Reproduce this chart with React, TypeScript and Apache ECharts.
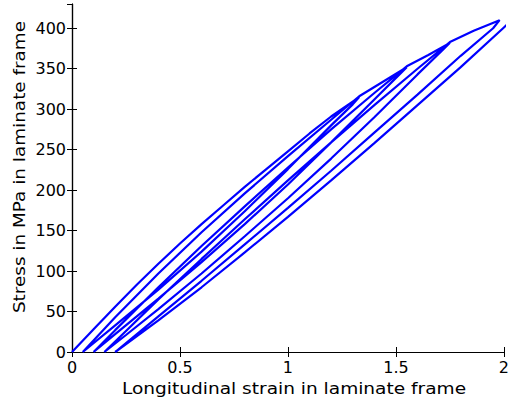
import React, { useEffect, useRef } from "react";
import * as echarts from "echarts";

// Tick labels
const xTicks = [0, 0.5, 1, 1.5, 2];
const yTicks = [0, 50, 100, 150, 200, 250, 300, 350, 400];

// Cyclic loading record, segment by segment (strain, stress in MPa)
const load1Strain = [0, 0.1, 0.2, 0.3, 0.4, 0.5, 0.6, 0.7, 0.8, 0.9, 1.0, 1.1, 1.2, 1.33];
const load1Stress = [0, 28, 56, 83, 109, 134, 158, 181, 204, 226, 248, 270, 291, 315];

const unload1Strain = [1.33, 1.3, 1.2, 1.0, 0.8, 0.6, 0.4, 0.2, 0.05];
const unload1Stress = [315, 306, 280, 226, 174, 124, 77, 33, 0];

const load2Strain = [0.05, 0.2, 0.4, 0.6, 0.8, 1.0, 1.2, 1.33, 1.44, 1.55];
const load2Stress = [0, 43, 97, 148, 196, 242, 287, 316, 334, 352];

const unload2Strain = [1.55, 1.52, 1.4, 1.2, 1.0, 0.8, 0.6, 0.4, 0.2, 0.1];
const unload2Stress = [352, 344, 312, 259, 207, 158, 111, 66, 22, 0];

const load3Strain = [0.1, 0.2, 0.4, 0.6, 0.8, 1.0, 1.2, 1.4, 1.55, 1.65, 1.75];
const load3Stress = [0, 27, 80, 131, 180, 228, 275, 320, 353, 367, 382];

const unload3Strain = [1.75, 1.72, 1.6, 1.4, 1.2, 1.0, 0.8, 0.6, 0.4, 0.25, 0.15];
const unload3Stress = [382, 374, 343, 290, 239, 190, 143, 97, 53, 21, 0];

const load4Strain = [0.15, 0.25, 0.4, 0.6, 0.8, 1.0, 1.2, 1.4, 1.6, 1.75, 1.86, 1.98];
const load4Stress = [0, 26, 65, 115, 164, 212, 259, 305, 350, 383, 397, 410];

const unload4Strain = [1.98, 1.95, 1.8, 1.6, 1.4, 1.2, 1.0, 0.8, 0.6, 0.4, 0.2];
const unload4Stress = [410, 400, 366, 318, 271, 224, 178, 133, 88, 44, 0];

const load5Strain = [0.2, 0.4, 0.6, 0.8, 1.0, 1.2, 1.4, 1.6, 1.8, 2.0, 2.05];
const load5Stress = [0, 39, 80, 123, 167, 212, 258, 305, 352, 401, 413];

const segments: [number[], number[]][] = [
  [load1Strain, load1Stress],
  [unload1Strain, unload1Stress],
  [load2Strain, load2Stress],
  [unload2Strain, unload2Stress],
  [load3Strain, load3Stress],
  [unload3Strain, unload3Stress],
  [load4Strain, load4Stress],
  [unload4Strain, unload4Stress],
  [load5Strain, load5Stress],
];

const FONT = "DejaVu Sans";

export default function App() {
  const ref = useRef<HTMLDivElement>(null);
  useEffect(() => {
    if (!ref.current) return;
    const chart = echarts.init(ref.current, undefined, { renderer: "svg" });
    const data: number[][] = [];
    segments.forEach(([xs, ys]) => {
      xs.forEach((x, i) => data.push([x, ys[i]]));
    });
    const xLab = (v: number) => (xTicks.includes(v) ? String(v) : "");
    const yLab = (v: number) => (yTicks.includes(v) ? String(v) : "");
    const axisLine = { show: true, lineStyle: { color: "#000", width: 1.2 } };
    const tick = { show: true, inside: true, length: 5, lineStyle: { color: "#000", width: 1 } };
    chart.setOption({
      animation: false,
      backgroundColor: "#fff",
      grid: { left: 72, right: 2, top: 4, bottom: 51, containLabel: false },
      xAxis: [
        {
          type: "value",
          position: "bottom",
          min: 0,
          max: 2,
          interval: 0.5,
          axisLine,
          axisTick: tick,
          splitLine: { show: false },
          axisLabel: { formatter: xLab, color: "#000", fontSize: 16, fontFamily: FONT, margin: 7 },
        },
        {
          type: "value",
          position: "top",
          min: 0,
          max: 2,
          interval: 0.5,
          axisLine,
          axisTick: tick,
          splitLine: { show: false },
          axisLabel: { show: false },
        },
      ],
      yAxis: [
        {
          type: "value",
          position: "left",
          min: 0,
          max: 430,
          interval: 50,
          axisLine,
          axisTick: tick,
          splitLine: { show: false },
          axisLabel: { formatter: yLab, color: "#000", fontSize: 16, fontFamily: FONT, margin: 6, showMaxLabel: false },
        },
        {
          type: "value",
          position: "right",
          min: 0,
          max: 430,
          interval: 50,
          axisLine,
          axisTick: tick,
          splitLine: { show: false },
          axisLabel: { show: false },
        },
      ],
      graphic: [
        {
          type: "text",
          x: 294,
          y: 388,
          scaleX: 1.16,
          style: {
            text: "Longitudinal strain in laminate frame",
            fontSize: 16,
            fontFamily: FONT,
            fill: "#000",
            align: "center",
            verticalAlign: "middle",
          },
        },
        {
          type: "text",
          x: 19,
          y: 167,
          rotation: Math.PI / 2,
          scaleX: 1.15,
          style: {
            text: "Stress in MPa in laminate frame",
            fontSize: 16,
            fontFamily: FONT,
            fill: "#000",
            align: "center",
            verticalAlign: "middle",
          },
        },
      ],
      series: [
        {
          type: "line",
          data,
          showSymbol: false,
          clip: true,
          lineStyle: { color: "#0000ff", width: 2.2 },
        },
      ],
    });
    return () => chart.dispose();
  }, []);
  return (
    <div
      ref={ref}
      style={{ position: "fixed", left: 0, top: 0, width: 512, height: 403, background: "#fff" }}
    />
  );
}
